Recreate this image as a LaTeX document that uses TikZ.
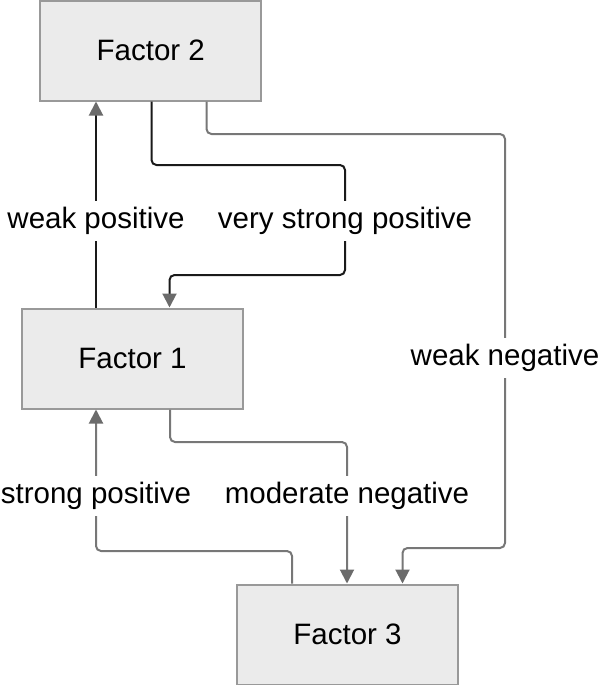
\documentclass[tikz,border=0pt]{standalone}
\usepackage{fontspec}
\setmainfont{Liberation Sans}
\usetikzlibrary{arrows.meta}
\definecolor{boxfill}{HTML}{EBEBEB}
\definecolor{boxline}{HTML}{999999}
\definecolor{arrowgray}{HTML}{6B6B6B}
\definecolor{linegray}{HTML}{777777}
\definecolor{lineblack}{HTML}{1A1A1A}
\tikzset{
  factorbox/.style={draw=boxline, fill=boxfill, line width=1pt, minimum width=110.5pt, minimum height=50pt, inner sep=0pt, font=\fontsize{14.75pt}{17pt}\selectfont},
  lbl/.style={fill=white, inner sep=3pt, font=\fontsize{14.75pt}{17pt}\selectfont},
  conn/.style={line width=1pt, rounded corners=2.5pt, -{Triangle[length=7pt,width=7pt,color=arrowgray]}},
  blk/.style={conn, draw=lineblack},
  gry/.style={conn, draw=linegray},
}
\begin{document}
\begin{tikzpicture}[x=0.5pt,y=-0.5pt]
\useasboundingbox (0,0) rectangle (598,685);
\node[factorbox] (F2) at (150.75,50.5) {Factor 2};
\node[factorbox] (F1) at (132.5,358.5) {Factor 1};
\node[factorbox] (F3) at (347.5,634.5) {Factor 3};
\coordinate (xa) at (96,0);
\coordinate (xb) at (151.5,0);
\coordinate (xd) at (169.5,0);
\coordinate (xe) at (206.5,0);
\coordinate (xg) at (402.5,0);
\coordinate (xh) at (170,0);
\coordinate (xi) at (347,0);
\coordinate (xj) at (292,0);
% weak positive
\draw[blk] (F1.north -| xa) -- (F2.south -| xa);
% very strong positive
\draw[blk] (F2.south -| xb) -- (151.5,165) -- (345,165) -- (345,275) -- (169.5,275) -- (F1.north -| xd);
% weak negative
\draw[gry] (F2.south -| xe) -- (206.5,134) -- (505,134) -- (505,548) -- (402.5,548) -- (F3.north -| xg);
% moderate negative
\draw[gry] (F1.south -| xh) -- (170,442) -- (347,442) -- (F3.north -| xi);
% strong positive
\draw[gry] (F3.north -| xj) -- (292,551) -- (96,551) -- (F1.south -| xa);
% labels
\node[lbl] (L1) at (96,221) {weak positive};
\node[lbl] (L2) at (345,221) {very strong positive};
\node[lbl] (L3) at (505,358) {weak negative};
\node[lbl] (L4) at (347,496) {moderate negative};
\node[lbl] (L5) at (96,496) {strong positive};
\end{tikzpicture}
\end{document}
